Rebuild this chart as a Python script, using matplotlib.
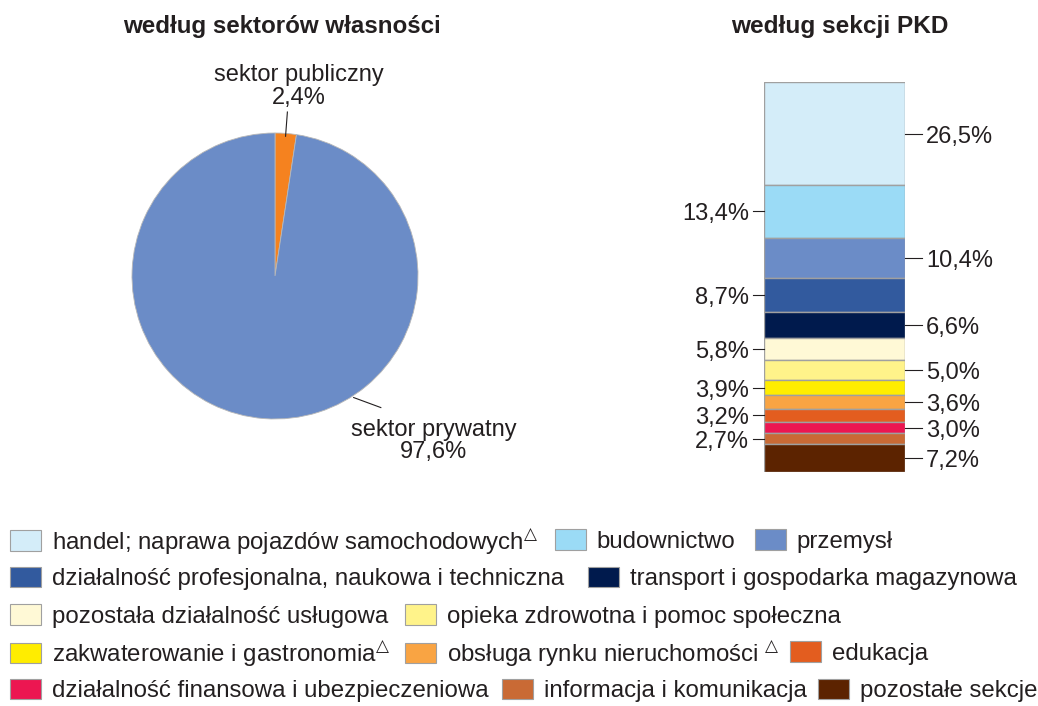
import numpy as np
import matplotlib
matplotlib.use("Agg")
import matplotlib.pyplot as plt
from matplotlib.patches import Patch
from matplotlib.transforms import blended_transform_factory, offset_copy

plt.rcParams['font.family'] = ['Liberation Sans', 'DejaVu Sans']
plt.rcParams['font.size'] = 17
plt.rcParams['text.color'] = '#231f20'

TROJKAT = r'$^{\bigtriangleup}$'

# struktura wg sektorów własności
sektory = ['sektor publiczny', 'sektor prywatny']
udzialy_sektory = [2.4, 97.6]
kolory_sektory = ['#f5821f', '#6b8cc7']

# struktura wg sekcji PKD (od góry słupka)
sekcje = [
    'handel; naprawa pojazdów samochodowych' + TROJKAT,
    'budownictwo',
    'przemysł',
    'działalność profesjonalna, naukowa i techniczna',
    'transport i gospodarka magazynowa',
    'pozostała działalność usługowa',
    'opieka zdrowotna i pomoc społeczna',
    'zakwaterowanie i gastronomia' + TROJKAT,
    'obsługa rynku nieruchomości ' + TROJKAT,
    'edukacja',
    'działalność finansowa i ubezpieczeniowa',
    'informacja i komunikacja',
    'pozostałe sekcje',
]
udzialy_sekcje = [26.5, 13.4, 10.4, 8.7, 6.6, 5.8, 5.0, 3.9, 3.6, 3.2, 3.0, 2.7, 7.2]
kolory_sekcje = ['#d4edf9', '#9bdbf6', '#6b8cc7', '#325a9e', '#001a4d', '#fff9d6',
                 '#fff38a', '#ffed00', '#f9a443', '#e35d1f', '#ec1651', '#c96a35', '#5c2300']

# układ legendy: (indeks sekcji, lewa krawędź kwadratu w px) w każdym wierszu
wiersze_legendy = [
    [(0, 10), (1, 555), (2, 755)],
    [(3, 10), (4, 588)],
    [(5, 10), (6, 405)],
    [(7, 10), (8, 405), (9, 790)],
    [(10, 10), (11, 502), (12, 818)],
]

W, H = 1038, 706
fig = plt.figure(figsize=(W / 100, H / 100), dpi=100)

def fx(px):
    return px / W

def fy(py):
    return 1 - py / H

# --- wykres kołowy ---
ax1 = fig.add_axes([fx(132), fy(419), fx(286), 286 / H])
ax1.pie(udzialy_sektory, colors=kolory_sektory, startangle=90, counterclock=False,
        wedgeprops=dict(edgecolor='#b8b8b8', linewidth=0.6))
ax1.set_xlim(-1, 1)
ax1.set_ylim(-1, 1)
ax1.axis('off')

kat = np.deg2rad(90 - udzialy_sektory[0] * 3.6 / 2)
ax1.plot([0.98 * np.cos(kat), 1.15 * np.cos(kat)], [0.98 * np.sin(kat), 1.15 * np.sin(kat)],
         color='#231f20', lw=0.8, clip_on=False)
ax1.text(0.17, 1.17, f"{sektory[0]}\n{udzialy_sektory[0]:.1f}%".replace('.', ','),
         ha='center', va='bottom', linespacing=1.05, clip_on=False)
ax1.plot([0.55, 0.74], [-0.85, -0.92], color='#231f20', lw=0.8, clip_on=False)
ax1.text(1.11, -1.0, f"{sektory[1]}\n{udzialy_sektory[1]:.1f}%".replace('.', ','),
         ha='center', va='top', linespacing=1.0, clip_on=False)

fig.text(fx(282), fy(27), 'według sektorów własności', ha='center', va='center',
         fontweight='bold', fontsize=17.4)

# --- słupek skumulowany ---
ax2 = fig.add_axes([fx(764), fy(472), fx(141), 390 / H])
dolne = np.concatenate([[0], np.cumsum(udzialy_sekcje)[:-1]])
ax2.bar(0, udzialy_sekcje, bottom=dolne, width=1, color=kolory_sekcje,
        edgecolor='#a0a0a0', linewidth=1)
ax2.set_xlim(-0.5, 0.5)
ax2.set_ylim(100, 0)
ax2.axis('off')

tr = blended_transform_factory(ax2.transAxes, ax2.transData)
tr_txt = offset_copy(tr, fig=fig, y=-3, units='dots')
for i, (v, d) in enumerate(zip(udzialy_sekcje, dolne)):
    yc = d + v / 2
    tekst = f"{v:.1f}%".replace('.', ',')
    if i % 2 == 0:
        ax2.plot([1.0, 1.0 + 17 / 141], [yc, yc], color='#231f20', lw=0.8,
                 transform=tr, clip_on=False)
        ax2.text(1.0 + 21 / 141, yc, tekst, ha='left', va='center',
                 transform=tr_txt)
    else:
        ax2.plot([0.0, -11 / 141], [yc, yc], color='#231f20', lw=0.8,
                 transform=tr, clip_on=False)
        ax2.text(-15 / 141, yc, tekst, ha='right', va='center',
                 transform=tr_txt)

fig.text(fx(840), fy(27), 'według sekcji PKD', ha='center', va='center',
         fontweight='bold', fontsize=17.6)

# --- legenda ---
for r, wiersz in enumerate(wiersze_legendy):
    for i, x0 in wiersz:
        uchwyt = Patch(facecolor=kolory_sekcje[i], edgecolor='#a0a0a0', linewidth=0.8)
        fig.legend([uchwyt], [sekcje[i]], loc='center left',
                   bbox_to_anchor=(fx(x0), fy(541 + 37.4 * r)),
                   bbox_transform=fig.transFigure, frameon=False, fontsize=17.3,
                   borderpad=0, borderaxespad=0, handlelength=1.28,
                   handleheight=0.94, handletextpad=0.46)

fig.savefig('out.png', dpi=100, facecolor='white')
